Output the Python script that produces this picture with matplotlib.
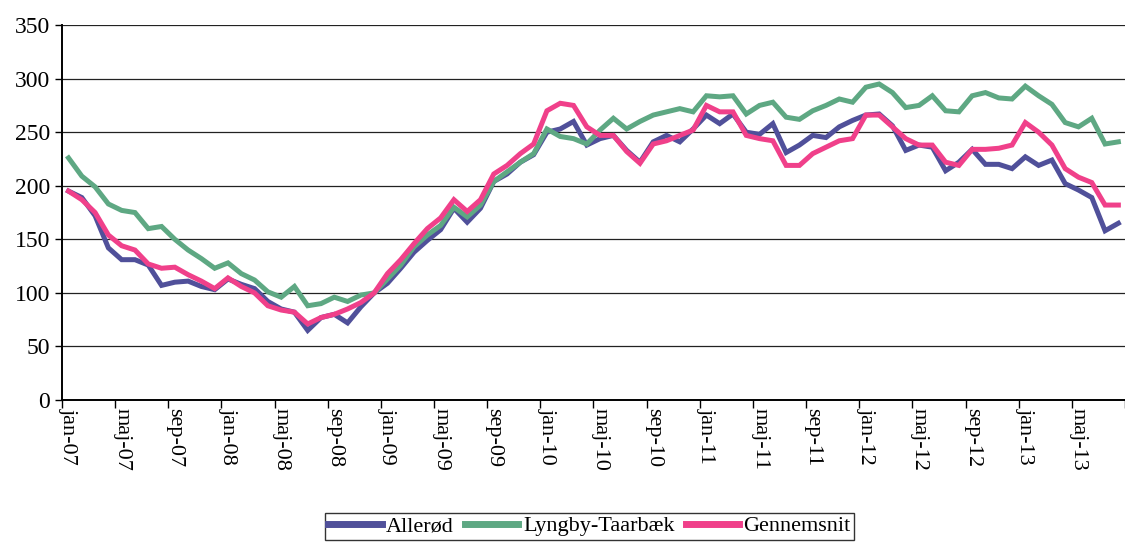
import matplotlib
matplotlib.use("Agg")
import matplotlib.pyplot as plt
import numpy as np

# monthly index, jan-07 .. aug-13
months = ["jan", "feb", "mar", "apr", "maj", "jun", "jul", "aug", "sep", "okt", "nov", "dec"]
labels = [f"{months[k % 12]}-{7 + k // 12:02d}" for k in range(80)]

allerod = [195, 189, 172, 142, 131, 131, 126, 107, 110, 111, 106, 103,
           113, 108, 104, 92, 85, 82, 65, 77, 80, 72, 87, 100,
           109, 123, 138, 149, 159, 179, 166, 179, 204, 211, 222, 229,
           250, 253, 260, 238, 244, 247, 233, 222, 241, 247, 241, 253,
           266, 258, 267, 250, 248, 258, 231, 238, 247, 245, 255, 261,
           266, 267, 256, 233, 238, 236, 214, 222, 234, 220, 220, 216,
           227, 219, 224, 202, 196, 189, 158, 165]
lyngby = [226, 209, 199, 183, 177, 175, 160, 162, 150, 140, 132, 123,
          128, 118, 112, 101, 96, 106, 88, 90, 96, 92, 98, 100,
          113, 126, 143, 154, 163, 180, 171, 182, 204, 213, 222, 230,
          253, 246, 244, 239, 252, 263, 253, 260, 266, 269, 272, 269,
          284, 283, 284, 267, 275, 278, 264, 262, 270, 275, 281, 278,
          292, 295, 287, 273, 275, 284, 270, 269, 284, 287, 282, 281,
          293, 284, 276, 259, 255, 263, 239, 241]
gennemsnit = [195, 187, 175, 154, 144, 140, 127, 123, 124, 117, 111, 104,
              114, 106, 100, 88, 84, 82, 71, 77, 80, 85, 91, 100,
              118, 131, 146, 160, 170, 187, 176, 187, 211, 219, 230, 239,
              270, 277, 275, 255, 247, 247, 232, 221, 239, 242, 247, 252,
              275, 269, 269, 247, 244, 242, 219, 219, 230, 236, 242, 244,
              266, 266, 255, 244, 238, 238, 222, 219, 234, 234, 235, 238,
              259, 250, 238, 216, 208, 203, 182, 182]

x = np.arange(len(labels))

plt.rcParams["font.family"] = ["Liberation Serif", "DejaVu Serif"]

fig = plt.figure(figsize=(11.25, 5.45), dpi=100)
ax = fig.add_axes([0.055, 0.266, 0.945, 0.688])

ax.plot(x, allerod, color="#50509a", lw=3.6, label="Allerød", solid_joinstyle="miter")
ax.plot(x, lyngby, color="#5ea883", lw=3.6, label="Lyngby-Taarbæk", solid_joinstyle="miter")
ax.plot(x, gennemsnit, color="#f0408a", lw=3.6, label="Gennemsnit", solid_joinstyle="miter")

ax.set_ylim(0, 350)
ax.set_xlim(-0.5, 79.5)
ax.set_yticks(range(0, 351, 50))
ax.yaxis.grid(True, color="#222222", lw=0.9)
ax.set_axisbelow(True)

# labels at category, tick marks between categories
ax.set_xticks(x[::4])
ax.set_xticklabels(labels[::4], rotation=-90, fontsize=16)
ax.set_xticks(np.arange(-0.5, 80, 4), minor=True)
ax.tick_params(axis="x", which="major", length=0, pad=6)
ax.tick_params(axis="x", which="minor", length=6, width=1, direction="out")
ax.tick_params(axis="y", labelsize=17, length=5, width=1, direction="out")

for s in ["top", "right"]:
    ax.spines[s].set_visible(False)
ax.spines["left"].set_linewidth(1.4)
ax.spines["bottom"].set_linewidth(1.4)

leg = fig.legend(loc="upper center", bbox_to_anchor=(0.524, 0.080), ncol=3,
                 fontsize=16, frameon=True, fancybox=False, edgecolor="black",
                 handlelength=2.4, handletextpad=0.2, columnspacing=0.5,
                 borderpad=0.15)
leg.get_frame().set_linewidth(1.0)
for line in leg.get_lines():
    line.set_linewidth(5)

fig.savefig("out.png", dpi=100)
